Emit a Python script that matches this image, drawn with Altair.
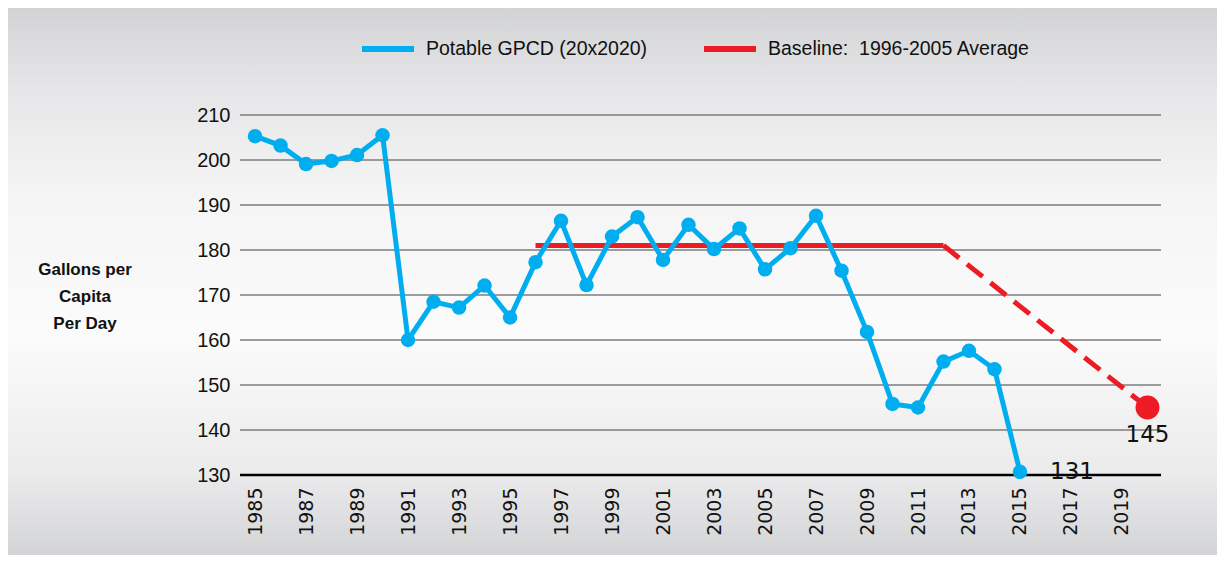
import altair as alt
import pandas as pd

# ---- data ----
years = list(range(1985, 2016))
gpcd = [205.3, 203.2, 199.1, 199.8, 201.1, 205.5, 160.0, 168.5, 167.2, 172.1,
        165.0, 177.3, 186.5, 172.2, 183.0, 187.3, 177.8, 185.6, 180.2, 184.8,
        175.7, 180.4, 187.6, 175.4, 161.8, 145.8, 145.0, 155.2, 157.6, 153.5,
        130.7]
baseline_years = [1996, 2012]
baseline_vals = [181, 181]
target_years = [2012, 2020]
target_vals = [181, 145]
label_years = [2015, 2020]
label_vals = [130.7, 145]
label_text = ["131", "145"]
y_ticks = [130, 140, 150, 160, 170, 180, 190, 200, 210]
x_ticks = list(range(1985, 2020, 2))

S_POT = "Potable GPCD (20x2020)"
S_BASE = "Baseline:\u00a0 1996-2005 Average"

BLUE = "#00aeef"
RED = "#ed1c24"
SANS = "Liberation Sans, Arial, sans-serif"
WIDE = "DejaVu Sans, Verdana, sans-serif"

W, H = 921, 360
PAD = {"left": 232, "top": 107, "right": 56, "bottom": 80}

df_pot = pd.DataFrame({"year": years, "value": gpcd, "series": S_POT})
df_base = pd.DataFrame({"year": baseline_years, "value": baseline_vals, "series": S_BASE})
df_target = pd.DataFrame({"year": target_years, "value": target_vals})
df_end = pd.DataFrame({"year": target_years[-1:], "value": target_vals[-1:]})
df_lab = pd.DataFrame({"year": label_years, "value": label_vals, "text": label_text})
df_grid = pd.DataFrame({"value": y_ticks[1:]})
df_base_rule = pd.DataFrame({"value": y_ticks[:1]})
df_one = pd.DataFrame({"a": [0]})

xscale = alt.Scale(domain=[1984.41, 2020.53], nice=False, zero=False)
yscale = alt.Scale(domain=[130, 210], nice=False, zero=False)

xaxis = alt.Axis(values=x_ticks, format="d", labelAngle=270, labelAlign="right",
                 labelBaseline="middle", labelPadding=12, ticks=False, domain=False,
                 grid=False, title=None, labelFont=WIDE, labelFontSize=19,
                 labelColor="#111111", zindex=1, labelOverlap=False)
yaxis = alt.Axis(values=y_ticks, ticks=False, domain=False, grid=False, title=None,
                 labelPadding=10, labelFont=SANS, labelFontSize=20,
                 labelColor="#111111", zindex=1)

X = alt.X("year:Q", scale=xscale, axis=xaxis)
Y = alt.Y("value:Q", scale=yscale, axis=yaxis)

color = alt.Color("series:N",
                  scale=alt.Scale(domain=[S_POT, S_BASE], range=[BLUE, RED]),
                  legend=alt.Legend(orient="none", legendX=119, legendY=-95,
                                    direction="horizontal", title=None,
                                    symbolType="stroke", symbolSize=2704,
                                    symbolStrokeWidth=6, labelFont=SANS,
                                    labelFontSize=19.5, labelColor="#111111",
                                    labelOffset=9, columnPadding=44, labelLimit=400,
                                    zindex=1))

bg = alt.Chart(df_one).mark_rect(
    color=alt.LinearGradient(
        gradient="linear", x1=0, x2=0, y1=0, y2=1,
        stops=[alt.GradientStop(color="#d2d3d5", offset=0),
               alt.GradientStop(color="#e6e6e8", offset=0.15),
               alt.GradientStop(color="#f5f5f5", offset=0.35),
               alt.GradientStop(color="#fbfbfb", offset=0.6),
               alt.GradientStop(color="#ebebec", offset=0.85),
               alt.GradientStop(color="#d3d4d6", offset=1)])
).encode(x=alt.value(-PAD["left"]), x2=alt.value(W + PAD["right"]),
         y=alt.value(-PAD["top"]), y2=alt.value(H + PAD["bottom"]))

grid = alt.Chart(df_grid).mark_rule(color="#7d7d7d", strokeWidth=1.5).encode(y=Y)
base_rule = alt.Chart(df_base_rule).mark_rule(color="#000000", strokeWidth=2.5).encode(y=Y)

pot_line = alt.Chart(df_pot).mark_line(strokeWidth=5).encode(x=X, y=Y, color=color)
pot_pts = alt.Chart(df_pot).mark_circle(size=210, opacity=1, color=BLUE).encode(x=X, y=Y)
base_line = alt.Chart(df_base).mark_line(strokeWidth=5).encode(x=X, y=Y, color=color)
target_line = alt.Chart(df_target).mark_line(strokeWidth=5, color=RED,
                                             strokeDash=[20, 10]).encode(x=X, y=Y)
end_pt = alt.Chart(df_end).mark_circle(size=570, opacity=1, color=RED).encode(x=X, y=Y)

lab131 = alt.Chart(df_lab.iloc[:1]).mark_text(
    align="left", baseline="middle", dx=30, font=WIDE, fontSize=23, color="#111111"
).encode(x=X, y=Y, text="text:N")
lab145 = alt.Chart(df_lab.iloc[1:]).mark_text(
    align="center", baseline="middle", dy=27, font=WIDE, fontSize=23, color="#111111"
).encode(x=X, y=Y, text="text:N")

ytitle = alt.Chart(df_one).mark_text(
    text="Gallons per\nCapita\nPer Day", lineBreak="\n", lineHeight=27,
    align="center", baseline="middle", font=SANS, fontSize=17, fontWeight="bold",
    color="#111111"
).encode(x=alt.value(-155), y=alt.value(155))

chart = alt.layer(bg, grid, base_rule, base_line, target_line, pot_line, pot_pts,
                  end_pt, lab131, lab145, ytitle).properties(
    width=W, height=H, padding=PAD, autosize="none"
).configure_view(stroke=None)

chart.save("out.html", embed_options={"renderer": "svg", "actions": False})
